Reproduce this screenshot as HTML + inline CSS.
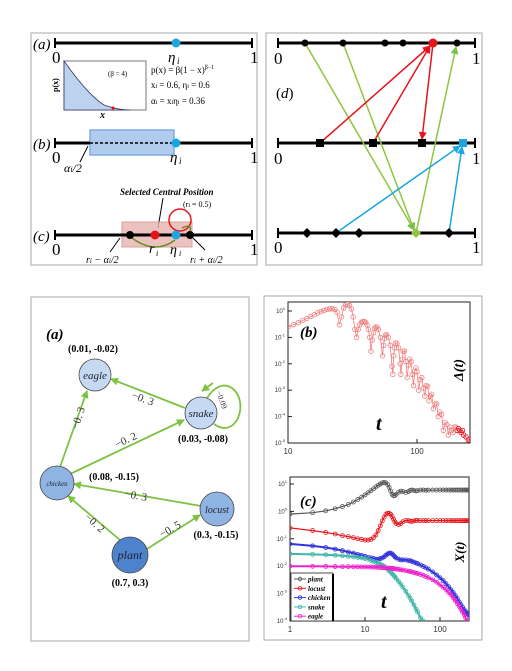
<!DOCTYPE html>
<html><head><meta charset="utf-8"><style>
body{margin:0;background:#fff;width:512px;height:671px;overflow:hidden}
svg{display:block;font-family:"Liberation Serif",serif}
</style></head><body>
<svg id="fig" width="512" height="671" viewBox="0 0 512 671">
<defs>
<marker id="ag" markerWidth="8" markerHeight="8" refX="7" refY="4" orient="auto" markerUnits="userSpaceOnUse"><path d="M0,0L8,4L0,8z" fill="#7dc242"/></marker>
<marker id="ar" markerWidth="8" markerHeight="8" refX="7" refY="4" orient="auto" markerUnits="userSpaceOnUse"><path d="M0,0L8,4L0,8z" fill="#e8141b"/></marker>
<marker id="ac" markerWidth="8" markerHeight="8" refX="7" refY="4" orient="auto" markerUnits="userSpaceOnUse"><path d="M0,0L8,4L0,8z" fill="#1aa7e0"/></marker>
<clipPath id="clipB"><rect x="288" y="302" width="182" height="141"/></clipPath>
<clipPath id="clipC"><rect x="290" y="477" width="179" height="144"/></clipPath>
</defs>
<!-- Panel top-left -->
<g>
<rect x="31" y="33" width="226" height="232" fill="#fff" stroke="#aaa" stroke-width="1"/>
<text x="33" y="49" font-size="15" font-style="italic">(a)</text>
<line x1="55" y1="43" x2="252" y2="43" stroke="#000" stroke-width="3"/>
<line x1="55" y1="38" x2="55" y2="48" stroke="#000" stroke-width="2"/><line x1="252" y1="38" x2="252" y2="48" stroke="#000" stroke-width="2"/>
<circle cx="176" cy="43" r="4.5" fill="#1aa7e0"/>
<text x="52" y="63" font-size="17">0</text><text x="250" y="63" font-size="17">1</text>
<text x="168" y="62" font-size="15" font-style="italic">η</text><text x="177" y="64" font-size="9" font-style="italic">i</text>
<rect x="64" y="61" width="82" height="49" fill="#fff" stroke="#777"/>
<path d="M64,61 Q88,95 104,105 Q118,110 130,110 L64,110z" fill="#bcd3f0" stroke="#336" stroke-width="0.8"/>
<circle cx="113" cy="108" r="1.5" fill="red"/>
<text x="108" y="76" font-size="7">(β = 4)</text>
<text x="58" y="92" font-size="8" font-weight="bold" transform="rotate(-90 58 92)">p(x)</text>
<text x="100" y="118" font-size="10" font-weight="bold" font-style="italic">x</text>
<text x="151" y="73" font-size="9">p(x) = β(1 − x)<tspan dy="-4" font-size="6">β−1</tspan></text>
<text x="151" y="88" font-size="9">x<tspan font-size="6">i</tspan> = 0.6, η<tspan font-size="6">i</tspan> = 0.6</text>
<text x="151" y="104" font-size="9">α<tspan font-size="6">i</tspan> = x<tspan font-size="6">i</tspan>η<tspan font-size="6">i</tspan> = 0.36</text>
<text x="33" y="149" font-size="15" font-style="italic">(b)</text>
<rect x="90" y="130" width="84" height="25" fill="#a9c6ec" stroke="#6fa3e0" stroke-width="1.5" opacity="0.9"/>
<line x1="55" y1="143" x2="252" y2="143" stroke="#000" stroke-width="3"/>
<line x1="90" y1="143" x2="174" y2="143" stroke="#a9c6ec" stroke-width="3"/>
<line x1="90" y1="143" x2="174" y2="143" stroke="#000" stroke-width="1.5" stroke-dasharray="3,2"/>
<line x1="55" y1="138" x2="55" y2="148" stroke="#000" stroke-width="2"/><line x1="252" y1="138" x2="252" y2="148" stroke="#000" stroke-width="2"/>
<circle cx="176" cy="143" r="4.5" fill="#1aa7e0"/>
<text x="52" y="163" font-size="17">0</text><text x="250" y="163" font-size="17">1</text>
<text x="170" y="162" font-size="15" font-style="italic">η</text><text x="179" y="164" font-size="9" font-style="italic">i</text>
<line x1="80" y1="162" x2="88" y2="146" stroke="#000"/>
<text x="64" y="172" font-size="12" font-style="italic">α<tspan font-size="8">i</tspan>/2</text>
<text x="120" y="195" font-size="9" font-weight="bold" font-style="italic">Selected Central Position</text>
<text x="183" y="207" font-size="8">(r<tspan font-size="6">i</tspan> = 0.5)</text>
<line x1="163" y1="198" x2="158" y2="228" stroke="#000"/>
<text x="33" y="241" font-size="15" font-style="italic">(c)</text>
<rect x="122" y="222" width="70" height="25" fill="#e7b4ae" stroke="#d08c86" opacity="0.8"/>
<line x1="55" y1="235" x2="252" y2="235" stroke="#000" stroke-width="3"/>
<line x1="130" y1="235" x2="190" y2="235" stroke="#000" stroke-width="1.5" stroke-dasharray="3,2"/>
<line x1="55" y1="230" x2="55" y2="240" stroke="#000" stroke-width="2"/><line x1="252" y1="230" x2="252" y2="240" stroke="#000" stroke-width="2"/>
<circle cx="180" cy="220" r="11" fill="none" stroke="#e8141b" stroke-width="1.5"/>
<path d="M132,238 Q155,255 175,240" fill="none" stroke="#6b8e23" stroke-width="1.5"/>
<path d="M188,236 Q195,222 182,228" fill="none" stroke="#6b8e23" stroke-width="1.5"/>
<circle cx="130" cy="235" r="4" fill="#000"/><circle cx="155" cy="235" r="4.5" fill="#e8141b"/>
<circle cx="176" cy="235" r="4.5" fill="#1aa7e0"/><circle cx="190" cy="235" r="4" fill="#000"/>
<text x="52" y="255" font-size="17">0</text><text x="250" y="255" font-size="17">1</text>
<text x="149" y="253" font-size="14" font-style="italic">r</text><text x="156" y="256" font-size="8" font-style="italic">i</text>
<text x="170" y="254" font-size="14" font-style="italic">η</text><text x="179" y="256" font-size="8" font-style="italic">i</text>
<line x1="110" y1="252" x2="120" y2="238" stroke="#000"/><line x1="205" y1="250" x2="193" y2="238" stroke="#000"/>
<text x="86" y="263" font-size="10" font-style="italic">r<tspan font-size="7">i</tspan> − α<tspan font-size="7">i</tspan>/2</text>
<text x="190" y="263" font-size="10" font-style="italic">r<tspan font-size="7">i</tspan> + α<tspan font-size="7">i</tspan>/2</text>
</g>
<!-- Panel d -->
<g>
<rect x="266" y="33" width="216" height="232" fill="#fff" stroke="#aaa"/>
<text x="276" y="98" font-size="15"><tspan>(</tspan><tspan font-style="italic">d</tspan><tspan>)</tspan></text>
<g stroke="#000" stroke-width="3"><line x1="278" y1="43" x2="475" y2="43"/><line x1="278" y1="143" x2="475" y2="143"/><line x1="278" y1="233" x2="475" y2="233"/></g>
<g stroke="#000" stroke-width="2"><line x1="278" y1="38" x2="278" y2="48"/><line x1="475" y1="38" x2="475" y2="48"/><line x1="278" y1="138" x2="278" y2="148"/><line x1="475" y1="138" x2="475" y2="148"/><line x1="278" y1="228" x2="278" y2="238"/><line x1="475" y1="228" x2="475" y2="238"/></g>
<g font-size="17"><text x="274" y="64">0</text><text x="472" y="64">1</text><text x="274" y="164">0</text><text x="472" y="164">1</text><text x="274" y="253">0</text><text x="472" y="253">1</text></g>
<g stroke-width="1.5" fill="none">
<line x1="305" y1="43" x2="414" y2="230" stroke="#8dc63f" marker-end="url(#ag)"/>
<line x1="343" y1="43" x2="414" y2="230" stroke="#8dc63f" marker-end="url(#ag)"/>
<line x1="416" y1="233" x2="456" y2="47" stroke="#8dc63f" marker-end="url(#ag)"/>
<line x1="320" y1="143" x2="430" y2="46" stroke="#e8141b" marker-end="url(#ar)"/>
<line x1="373" y1="143" x2="430" y2="46" stroke="#e8141b" marker-end="url(#ar)"/>
<line x1="433" y1="43" x2="422" y2="139" stroke="#e8141b" marker-end="url(#ar)"/>
<line x1="336" y1="233" x2="460" y2="146" stroke="#1aa7e0" marker-end="url(#ac)"/>
<line x1="449" y1="233" x2="462" y2="147" stroke="#1aa7e0" marker-end="url(#ac)"/>
</g>
<g fill="#000"><circle cx="305" cy="43" r="3.5"/><circle cx="343" cy="43" r="3.5"/><circle cx="385" cy="43" r="3.5"/><circle cx="403" cy="43" r="3.5"/><circle cx="457" cy="43" r="3.5"/></g>
<circle cx="433" cy="43" r="4.5" fill="#e8141b"/>
<g fill="#000"><rect x="316" y="139" width="8" height="8"/><rect x="369" y="139" width="8" height="8"/><rect x="418" y="139" width="8" height="8"/></g>
<rect x="459" y="139" width="8" height="8" fill="#1aa7e0"/>
<g fill="#000"><path d="M307,228l5,5l-5,5l-5,-5z"/><path d="M336,228l5,5l-5,5l-5,-5z"/><path d="M359,228l5,5l-5,5l-5,-5z"/><path d="M449,228l5,5l-5,5l-5,-5z"/></g>
<path d="M416,228l5,5l-5,5l-5,-5z" fill="#8dc63f"/>
</g>
<!-- Network -->
<g>
<rect x="31" y="297" width="218" height="344" fill="#fff" stroke="#aaa"/>
<text x="46" y="339" font-size="15" font-weight="bold" font-style="italic">(a)</text>
<g stroke="#7dc242" stroke-width="1.8" fill="none">
<line x1="60" y1="467" x2="87" y2="391" marker-end="url(#ag)"/>
<line x1="185" y1="408" x2="111" y2="379" marker-end="url(#ag)"/>
<line x1="70" y1="474" x2="184" y2="420" marker-end="url(#ag)"/>
<line x1="201" y1="506" x2="74" y2="484" marker-end="url(#ag)"/>
<line x1="120" y1="540" x2="68" y2="496" marker-end="url(#ag)"/>
<line x1="147" y1="549" x2="200" y2="515" marker-end="url(#ag)"/>
<path d="M207,398 C225,370 248,395 238,418 C232,430 222,430 214,424" />
<path d="M213,383 L202,391" marker-end="url(#ag)"/>
</g>
<g font-size="11" fill="#333">
<text x="78" y="430" transform="rotate(-72 78 430)">−0. 3</text>
<text x="131" y="398" transform="rotate(20 131 398)">−0. 3</text>
<text x="216" y="392" font-size="8" transform="rotate(70 216 392)">−0.09</text>
<text x="117" y="448" transform="rotate(-25 117 448)">−0. 2</text>
<text x="124" y="497" transform="rotate(10 124 497)">−0. 3</text>
<text x="84" y="518" transform="rotate(42 84 518)">−0. 2</text>
<text x="162" y="538" transform="rotate(-30 162 538)">−0. 5</text>
</g>
<g stroke="#444" stroke-width="0.8">
<circle cx="95" cy="375" r="16" fill="#c5daf2"/>
<circle cx="201" cy="413" r="16" fill="#c5daf2"/>
<circle cx="57" cy="483" r="17" fill="#8fb4e3"/>
<circle cx="217" cy="509" r="17" fill="#8fb4e3"/>
<circle cx="130" cy="555" r="18" fill="#4d82cc"/>
</g>
<g font-style="italic" text-anchor="middle" fill="#223">
<text x="95" y="379" font-size="11">eagle</text>
<text x="201" y="417" font-size="11">snake</text>
<text x="57" y="486" font-size="7">chicken</text>
<text x="217" y="513" font-size="10">locust</text>
<text x="130" y="559" font-size="12">plant</text>
</g>
<g font-size="10" font-weight="bold" text-anchor="middle">
<text x="93" y="352">(0.01, -0.02)</text>
<text x="203" y="442">(0.03, -0.08)</text>
<text x="114" y="480">(0.08, -0.15)</text>
<text x="216" y="538">(0.3, -0.15)</text>
<text x="130" y="586">(0.7, 0.3)</text>
</g>
</g>
<!-- Panels b and c -->
<g>
<rect x="264" y="296" width="218" height="344" fill="#fff" stroke="#aaa"/>
<g id="plotB"></g>
<g id="plotC"></g>
</g>
</svg>
<script>
// Panel (b): Delta(t)
const deltaT = [10,11,12,13,14,15,16,17,18,19,20,21,22,23,24,25,26,27,28,29,30,31,32,33,34,35,36,37,38,39,40,41,42,43,44,45,46,47,48,49,50,52,54,55,56,57,58,60,62,64,65,66,67,68,70,72,74,75,77,78,80,82,84,86,88,90,92,94,96,98,100,103,106,109,112,115,118,121,124,127,130,134,138,142,146,150,155,160,165,170,175,180,185,190,195,200,205,210,215,220,225,230,240,250,255];
const deltaV = [0.25,0.3,0.36,0.44,0.52,0.62,0.72,0.85,0.95,1.05,1.15,1.2,1.22,1.15,0.9,0.3,0.6,1.3,1.7,1.8,1.6,1.2,0.6,0.2,0.1,0.2,0.3,0.36,0.4,0.4,0.37,0.3,0.2,0.1,0.03,0.08,0.15,0.22,0.25,0.24,0.2,0.1,0.02,0.05,0.09,0.12,0.13,0.1,0.05,0.008,0.004,0.02,0.04,0.06,0.06,0.04,0.01,0.004,0.015,0.03,0.03,0.012,0.003,0.009,0.015,0.012,0.004,0.0015,0.005,0.007,0.005,0.001,0.0025,0.003,0.0012,0.0006,0.0015,0.0014,0.0004,0.0006,0.0007,0.0002,0.0003,0.0003,0.0001,0.00015,0.00012,0.00003,0.00006,0.00005,0.00002,0.00004,0.00003,0.000025,0.00004,0.00004,0.00003,0.000035,0.00003,0.000025,0.00003,0.00002,0.000017,0.000013,0.000011];
const deltaXTicks = [10,100];
const deltaYTicks = [0,-1,-2,-3,-4,-5];
// Panel (c): X(t)
const popT = [1,2,3,4,5,6,7,8,9,10,11,12,13,14,15,16,17,18,19,20,21,22,23,24,25,26,28,30,32,35,38,40,42,45,48,50,55,60,65,70,80,90,100,110,120,130,140,150,160,170,180,190,200,210,220,230,240,250];
const plantX = [0.8,0.9,1.05,1.25,1.5,1.8,2.2,2.7,3.3,4,4.8,5.7,6.7,7.8,9,10,11,11.5,11,9.5,7.5,5.5,4.2,3.7,3.8,4.2,5,5.5,5.3,4.9,5.3,5.8,6,5.8,5.6,5.7,6,6,5.9,6,6,6,6,6,6,6,6,6,6,6,6,6,6,6,6,6,6,6];
const locustX = [0.25,0.2,0.17,0.15,0.13,0.12,0.11,0.1,0.095,0.09,0.09,0.095,0.11,0.14,0.2,0.3,0.45,0.62,0.78,0.86,0.85,0.78,0.65,0.52,0.42,0.36,0.33,0.36,0.42,0.47,0.46,0.44,0.43,0.45,0.47,0.47,0.46,0.46,0.46,0.46,0.46,0.46,0.46,0.46,0.46,0.46,0.46,0.46,0.46,0.46,0.46,0.46,0.46,0.46,0.46,0.46,0.46,0.46];
const chickenX = [0.065,0.055,0.048,0.042,0.037,0.033,0.03,0.027,0.025,0.023,0.021,0.02,0.019,0.018,0.018,0.019,0.02,0.022,0.025,0.028,0.03,0.03,0.028,0.025,0.022,0.02,0.018,0.017,0.017,0.017,0.016,0.016,0.015,0.014,0.013,0.0125,0.011,0.0098,0.0088,0.0078,0.0062,0.0048,0.0038,0.003,0.0023,0.0018,0.0014,0.0011,0.00085,0.00066,0.0005,0.0004,0.00032,0.00026,0.00022,0.00019,0.00017,0.00016];
const snakeX = [0.028,0.027,0.026,0.025,0.024,0.023,0.022,0.021,0.02,0.019,0.018,0.016,0.015,0.014,0.013,0.012,0.011,0.0098,0.0088,0.0078,0.0069,0.006,0.0053,0.0047,0.0041,0.0036,0.0028,0.0022,0.0017,0.0012,0.00085,0.00068,0.00054,0.00038,0.00027,0.00022,0.00013,0.0001,null,null,null,null,null,null,null,null,null,null,null,null,null,null,null,null,null,null,null,null];
const eagleX = [0.01,0.0099,0.0098,0.0097,0.0096,0.0096,0.0095,0.0095,0.0094,0.0094,0.0093,0.0093,0.0092,0.0092,0.0091,0.009,0.0089,0.0088,0.0087,0.0086,0.0085,0.0084,0.0083,0.0082,0.008,0.0079,0.0077,0.0074,0.0072,0.0069,0.0066,0.0064,0.0062,0.0059,0.0056,0.0054,0.005,0.0046,0.0042,0.0038,0.0032,0.0026,0.0021,0.0017,0.0014,0.0011,0.0009,0.0007,0.00055,0.00043,0.00034,0.00027,0.00021,0.00017,0.00013,0.0001,null,null];
const popXTicks = [1,10,100];
const popYTicks = [1,0,-1,-2,-3,-4];
const seriesNames = ['plant','locust','chicken','snake','eagle'];
const seriesColors = ['#555','#e8141b','#3333dd','#3fb7a8','#ee22cc'];

const NS='http://www.w3.org/2000/svg';
function mk(parent,tag,attrs){const e=document.createElementNS(NS,tag);for(const k in attrs)e.setAttribute(k,attrs[k]);parent.appendChild(e);return e;}
function logAxis(x0,x1,lmin,lmax){return v=>x0+(Math.log10(v)-lmin)/(lmax-lmin)*(x1-x0);}

// ---- plot B
(function(){
const g=document.getElementById('plotB');
const L=288,R=470,T=302,B=443;
const sx=logAxis(L,R,1,1+(R-L)/129);
const sy=v=>311+(-Math.log10(v))*26.4;
const fr=mk(g,'rect',{x:L,y:T,width:R-L,height:B-T,fill:'none',stroke:'#222','stroke-width':1});


deltaXTicks.forEach(t=>{const x=sx(t);mk(g,'line',{x1:x,y1:B,x2:x,y2:B-4,stroke:'#222'});
 const tx=mk(g,'text',{x:x,y:B+11,'font-size':8,'text-anchor':'middle',fill:'#333','font-family':'Liberation Sans, sans-serif'});tx.textContent=t;
 
 });
deltaYTicks.forEach(p=>{const y=sy(Math.pow(10,p));mk(g,'line',{x1:L,y1:y,x2:L+4,y2:y,stroke:'#222'});
 const tx=mk(g,'text',{x:L-3,y:y+2,'font-size':6,'text-anchor':'end',fill:'#333','font-family':'Liberation Sans, sans-serif'});tx.innerHTML='10<tspan dy="-3" font-size="4">'+p+'</tspan>';
 
 });
const cg=mk(g,'g',{'clip-path':'url(#clipB)'});
let d='';deltaT.forEach((t,i)=>{d+=(i?'L':'M')+sx(t).toFixed(1)+','+sy(deltaV[i]).toFixed(1);});
const ln=mk(cg,'path',{d:d,fill:'none',stroke:'#f08080','stroke-width':0.8});


deltaT.forEach((t,i)=>{const c=mk(cg,'circle',{cx:sx(t),cy:sy(deltaV[i]),r:2.3,fill:'none',stroke:t>200?'#e8141b':'#f08080','stroke-width':0.8});
 
 });
const lb=mk(g,'text',{x:300,y:337,'font-size':15,'font-weight':'bold','font-style':'italic'});lb.textContent='(b)';


const yl=mk(g,'text',{x:463,y:370,'font-size':14,'font-weight':'bold','font-style':'italic',transform:'rotate(-90 463 370)','text-anchor':'middle'});yl.textContent='Δ(t)';


const xl=mk(g,'text',{x:376,y:430,'font-size':20,'font-weight':'bold','font-style':'italic'});xl.textContent='t';


})();

// ---- plot C
(function(){
const g=document.getElementById('plotC');
const L=290,R=469,T=477,B=621;
const sx=logAxis(L,R,0,(R-L)/75);
const sy=v=>484+(1-Math.log10(v))*27.4;
const fr=mk(g,'rect',{x:L,y:T,width:R-L,height:B-T,fill:'none',stroke:'#222','stroke-width':1});


popXTicks.forEach(t=>{const x=sx(t);mk(g,'line',{x1:x,y1:B,x2:x,y2:B-4,stroke:'#222'});
 const tx=mk(g,'text',{x:x,y:B+11,'font-size':8,'text-anchor':'middle',fill:'#333','font-family':'Liberation Sans, sans-serif'});tx.textContent=t;
 
 });
popYTicks.forEach(p=>{const y=sy(Math.pow(10,p));mk(g,'line',{x1:L,y1:y,x2:L+4,y2:y,stroke:'#222'});
 const tx=mk(g,'text',{x:L-3,y:y+2,'font-size':6,'text-anchor':'end',fill:'#333','font-family':'Liberation Sans, sans-serif'});tx.innerHTML='10<tspan dy="-3" font-size="4">'+p+'</tspan>';
 
 });
const cg=mk(g,'g',{'clip-path':'url(#clipC)'});
const data=[plantX,locustX,chickenX,snakeX,eagleX];
data.forEach((arr,si)=>{
 let d='';let first=true;
 popT.forEach((t,i)=>{const v=arr[i];if(v==null)return;d+=(first?'M':'L')+sx(t).toFixed(1)+','+sy(v).toFixed(1);first=false;});
 const p=mk(cg,'path',{d:d,fill:'none',stroke:seriesColors[si],'stroke-width':si>=2?2:1.2});
 
 
 popT.forEach((t,i)=>{const v=arr[i];if(v==null)return;
  const c=mk(cg,'circle',{cx:sx(t),cy:sy(v),r:2,fill:'none',stroke:seriesColors[si],'stroke-width':0.8});
  
  });
});
const lb=mk(g,'text',{x:300,y:506,'font-size':15,'font-weight':'bold','font-style':'italic'});lb.textContent='(c)';


const yl=mk(g,'text',{x:464,y:552,'font-size':13,'font-weight':'bold','font-style':'italic',transform:'rotate(-90 464 552)','text-anchor':'middle'});yl.textContent='X(t)';


const xl=mk(g,'text',{x:381,y:608,'font-size':20,'font-weight':'bold','font-style':'italic'});xl.textContent='t';


const lg=mk(g,'g',{});


mk(lg,'rect',{x:291,y:573,width:42,height:48,fill:'#fff',stroke:'#222','stroke-width':0.8});
mk(lg,'line',{x1:333,y1:574,x2:333,y2:621,stroke:'#000','stroke-width':2});
seriesNames.forEach((n,i)=>{const y=579+i*9.3;
 mk(lg,'line',{x1:294,y1:y,x2:306,y2:y,stroke:seriesColors[i]});
 mk(lg,'circle',{cx:300,cy:y,r:1.8,fill:'none',stroke:seriesColors[i],'stroke-width':0.8});
 const t=mk(lg,'text',{x:308,y:y+2.5,'font-size':7,'font-weight':'bold','font-style':'italic'});t.textContent=n;
 
 });
})();
</script>
</body></html>
